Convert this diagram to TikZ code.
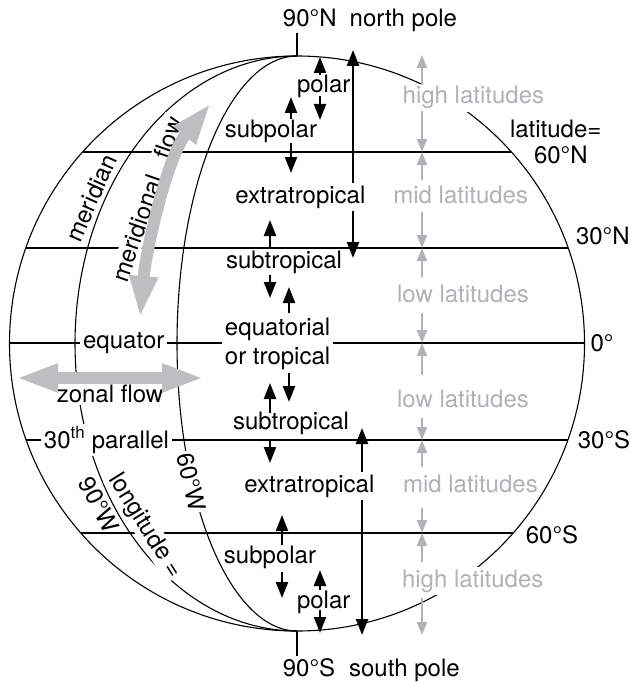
\documentclass[tikz,border=0pt]{standalone}
\usepackage{fontspec}
\setmainfont{TeX Gyre Heros}
\usetikzlibrary{arrows.meta}
\definecolor{flowgray}{RGB}{189,190,192}
\definecolor{beltgray}{RGB}{176,178,181}
\tikzset{
  txt/.style={font=\fontsize{24}{29}\selectfont, inner sep=0pt, anchor=base},
  masktxt/.style={txt, fill=white, inner sep=3pt},
  beltlabel/.style={txt, text=beltgray, fill=white, inner sep=3pt},
  gridline/.style={line width=1.1pt},
  poletick/.style={line width=1.8pt},
  zonearrow/.style={line width=2.3pt, -{Triangle[length=16pt,width=12pt]}},
  spanarrow/.style={line width=2.3pt, {Triangle[length=16pt,width=12pt]}-{Triangle[length=16pt,width=12pt]}},
  beltarrow/.style={draw=beltgray, line width=2pt, -{Triangle[length=13pt,width=10pt]}},
  flowarrow/.style={draw=flowgray, line width=12pt, {Triangle[length=42pt,width=26pt]}-{Triangle[length=42pt,width=26pt]}},
}
\begin{document}
\begin{tikzpicture}[x=1pt, y=-1pt]
\useasboundingbox (0,0) rectangle (631,682);

% globe outline and two meridians (half ellipses through the poles)
\draw[gridline] (297,343.5) circle[radius=287.5];
\draw[gridline] plot[domain=-90:90, samples=150] ({297-222*cos(\x)}, {343.5-287.5*sin(\x)});
\draw[gridline] plot[domain=-90:90, samples=150] ({297-120*cos(\x)}, {343.5-287.5*sin(\x)});

% parallels
\draw[gridline] (82.6,152) -- (511.4,152);
\draw[gridline] (25.8,248) -- (568.2,248);
\draw[gridline] (9.5,343) -- (584.5,343);
\draw[gridline] (26.2,440) -- (567.8,440);
\draw[gridline] (80.8,533) -- (513.2,533);

% pole ticks
\draw[poletick] (297,33) -- (297,56);
\draw[poletick] (297,631) -- (297,656);

% long arrows spanning the extratropics
\draw[spanarrow] (353,50) -- (353,258);
\draw[spanarrow] (362,428) -- (362,635);

% labels that interrupt lines
\node[masktxt] (extraN) at (300.4,203) {extratropical};
\node[masktxt] (extraS) at (309.4,492) {extratropical};
\node[masktxt, anchor=center, align=center] (eqzone) at (277.6,344) {equatorial\\or tropical};
\node[masktxt] (equator) at (123.7,348) {equator};
\node[masktxt] (parallel) at (106.5,448) {30\textsuperscript{th} parallel};
\node[masktxt] (zonal) at (110,402) {zonal flow};
\node[txt, fill=white, inner sep=2pt, anchor=center, rotate=71] (meridflow) at (147,199) {meridional\hspace{0.8em}flow};
\node[txt, fill=white, inner sep=2pt, anchor=center, rotate=-77] (lon60) at (191,482) {60°W};
\node[txt, fill=white, inner sep=1pt, anchor=center, rotate=-58] (longitude) at (145,526) {longitude =};
\node[txt, anchor=center, rotate=-63] (lon90) at (99,505) {90°W};
\node[txt, anchor=center, rotate=66] (meridian) at (91,198) {meridian};

% latitude belts
\node[beltlabel] (highN) at (473.4,104) {high latitudes};
\node[beltlabel] (midN) at (460.7,203) {mid latitudes};
\node[beltlabel] (lowN) at (463,302) {low latitudes};
\node[beltlabel] (lowS) at (463,407) {low latitudes};
\node[beltlabel] (midS) at (470.4,492) {mid latitudes};
\node[beltlabel] (highS) at (472.7,587) {high latitudes};

% flow arrows
\draw[flowarrow] (16,378) -- (204,378);
\draw[flowarrow] (140,318) .. controls (146,250) and (167,157) .. (211,103);

% zone arrows
\draw[zonearrow] (320,75) -- (320,57);
\draw[zonearrow] (320,96) -- (320,120);
\draw[zonearrow] (291,119) -- (291,97);
\draw[zonearrow] (291,143) -- (291,173);
\draw[zonearrow] (270,248) -- (270,220);
\draw[zonearrow] (270,275) -- (270,298);
\draw[zonearrow] (289,313) -- (289,287);
\draw[zonearrow] (289,373) -- (289,402);
\draw[zonearrow] (270,413) -- (270,383);
\draw[zonearrow] (270,440) -- (270,463);
\draw[zonearrow] (282,545) -- (282,515);
\draw[zonearrow] (282,572) -- (282,598);
\draw[zonearrow] (320,590) -- (320,570);
\draw[zonearrow] (320,610) -- (320,633);

% belt arrows
\draw[beltarrow] (422,85) -- (422,55);
\draw[beltarrow] (422,111) -- (422,152);
\draw[beltarrow] (422,180) -- (422,152);
\draw[beltarrow] (422,212) -- (422,248);
\draw[beltarrow] (422,277) -- (422,248);
\draw[beltarrow] (422,313) -- (422,343);
\draw[beltarrow] (422,375) -- (422,343);
\draw[beltarrow] (422,418) -- (422,440);
\draw[beltarrow] (422,467) -- (422,440);
\draw[beltarrow] (422,508) -- (422,533);
\draw[beltarrow] (422,562) -- (422,533);
\draw[beltarrow] (422,598) -- (422,635);

% zone names
\node[txt] (polarN) at (323.7,93) {polar};
\node[txt] (subpolarN) at (271,138) {subpolar};
\node[txt] (subtropN) at (284,268) {subtropical};
\node[txt] (subtropS) at (291,429) {subtropical};
\node[txt] (subpolarS) at (270,563) {subpolar};
\node[txt] (polarS) at (323.7,608) {polar};

% poles
\node[txt] (npole) at (309.8,27) {90°N};
\node[txt] (nname) at (403.4,27) {north pole};
\node[txt] (spole) at (309,676) {90°S};
\node[txt] (sname) at (404.4,676) {south pole};

% latitude values
\node[txt] (latword) at (555.7,137.5) {latitude=};
\node[txt] (lat60n) at (560.8,163.5) {60°N};
\node[txt] (lat30n) at (602.8,244.5) {30°N};
\node[txt] (lat0) at (602,351) {0°};
\node[txt] (lat30s) at (604,448) {30°S};
\node[txt] (lat60s) at (552,543) {60°S};
\end{tikzpicture}
\end{document}
